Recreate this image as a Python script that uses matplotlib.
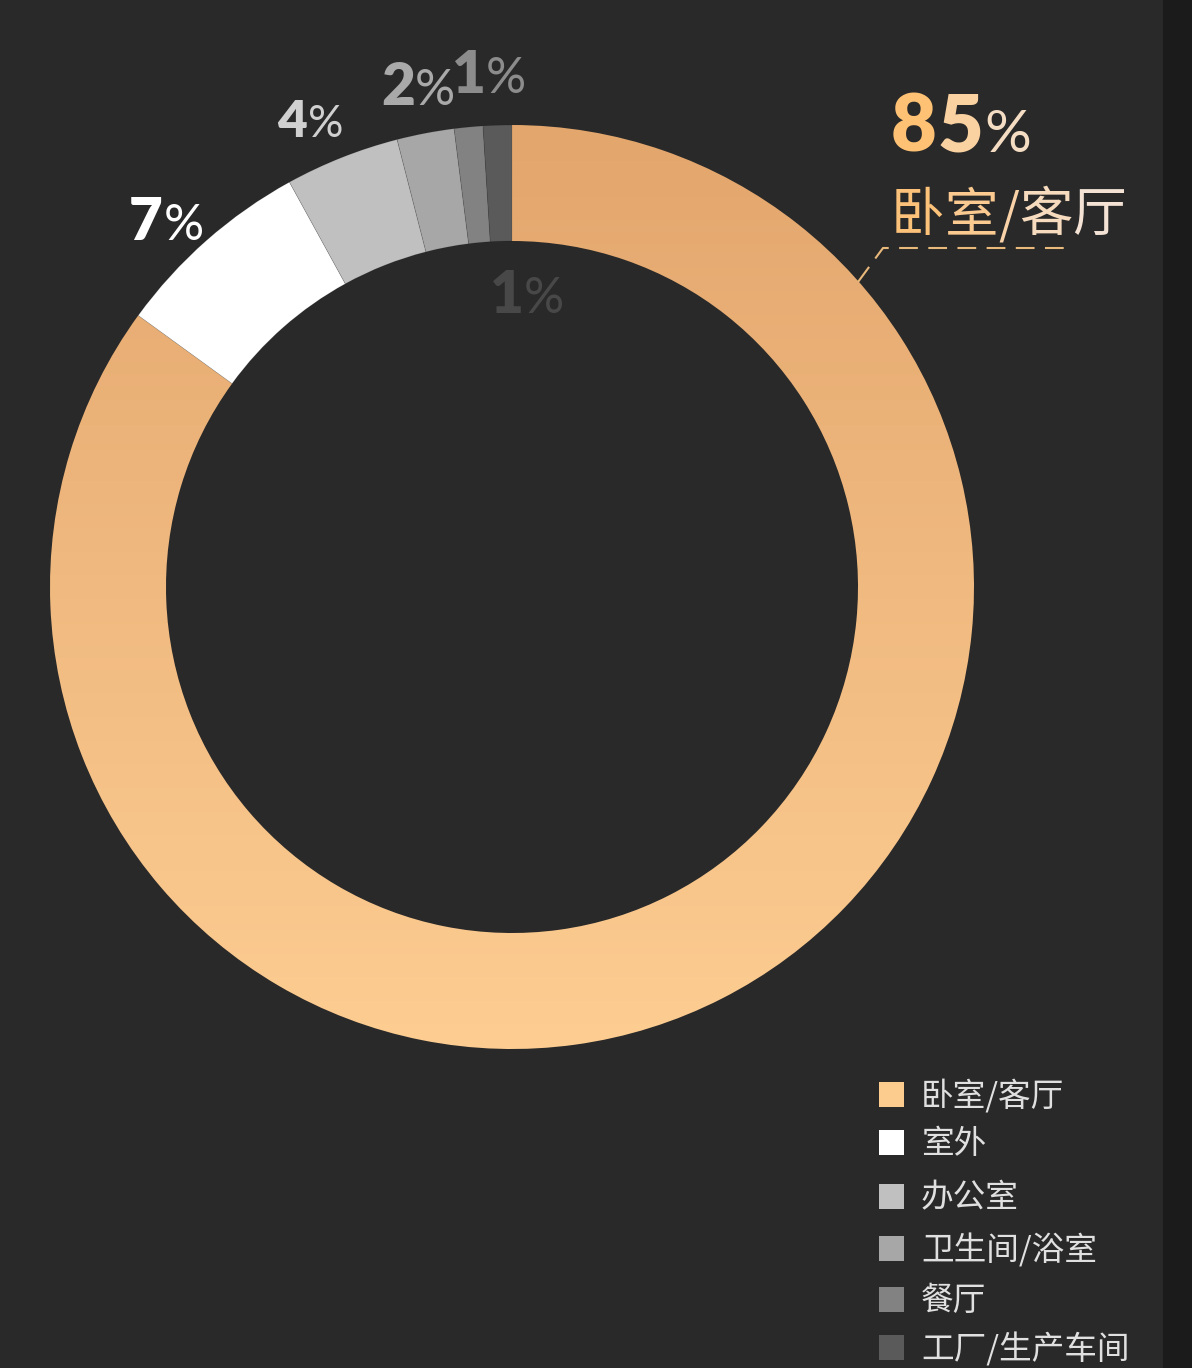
import numpy as np
import matplotlib
matplotlib.use('Agg')
import matplotlib.pyplot as plt
from matplotlib.patches import Rectangle
from matplotlib.colors import to_rgb, to_hex

# ---------------- data ----------------
categories = ['卧室/客厅', '室外', '办公室', '卫生间/浴室', '餐厅', '工厂/生产车间']
values = [85, 7, 4, 2, 1, 1]
pct_labels = ['85', '7', '4', '2', '1', '1']
colors = ['#FCCB8E', '#FFFFFF', '#C0C0C0', '#A7A7A7', '#828282', '#5A5A5A']
label_colors = ['#FFC274', '#FFFFFF', '#D0D0D0', '#A9A9A9', '#8C8C8C', '#484848']

BG = '#292929'
W, H = 1192, 1368
plt.rcParams['font.family'] = ['Noto Sans CJK SC', 'DejaVu Sans']

fig = plt.figure(figsize=(W / 100, H / 100), dpi=100)
fig.patch.set_facecolor(BG)
ax = fig.add_axes([0, 0, 1, 1])
ax.set_facecolor(BG)

# right dark strip
fig.patches.append(Rectangle((1163 / W, 0), (W - 1163) / W, 1, transform=fig.transFigure,
                             facecolor='#1B1B1B', edgecolor='none', zorder=-1))

cx, cy = 512, H - 587
R, ring = 462, 116
wedges, _ = ax.pie(values, colors=colors, startangle=90, counterclock=False,
                   center=(cx, cy), radius=R,
                   wedgeprops=dict(width=ring, edgecolor=(0, 0, 0, 0.12), linewidth=0.6))

# vertical gradient for the main slice
top = np.array(to_rgb('#E3A66D'))
bot = np.array(to_rgb('#FDCD92'))
t = np.linspace(0, 1, 512)[:, None, None]
grad = top * (1 - t) + bot * t
main = wedges[0]
main.set_facecolor('none')
main.set_edgecolor('none')
im = ax.imshow(grad, extent=[cx - R, cx + R, cy - R, cy + R], origin='upper',
               aspect='auto', interpolation='bilinear', zorder=0.5)
im.set_clip_path(main)

ax.set_xlim(0, W)
ax.set_ylim(0, H)
ax.set_aspect('auto')
ax.axis('off')

renderer = fig.canvas.get_renderer()


def run_text(x, y_px, runs, gap=0):
    """runs: list of (string, color, fontsize, weight, family)"""
    for s, c, fs, wt, fam in runs:
        tx = ax.text(x, H - y_px, s, color=c, fontsize=fs, fontweight=wt,
                     family=fam, ha='left', va='baseline')
        bb = tx.get_window_extent(renderer=renderer)
        x += bb.width + gap
    return x


def lerp(c0, c1, f):
    a, b = np.array(to_rgb(c0)), np.array(to_rgb(c1))
    return to_hex(a + (b - a) * f)


NUM = ['Lato', 'DejaVu Sans']
CJK = ['Noto Sans CJK SC', 'DejaVu Sans']

# ---- 85% big gradient label ----
g0, g1 = '#FFC274', '#F4E0CC'
run_text(891, 152, [(pct_labels[0][0], lerp(g0, g1, 0.0), 57, 'heavy', NUM),
                    (pct_labels[0][1], lerp(g0, g1, 0.5), 57, 'heavy', NUM),
                    ('%', lerp(g0, g1, 0.9), 42, 'normal', NUM)], gap=1)
name = categories[0]
run_text(891, 231, [(ch, lerp('#FDC27A', '#F4E3D5', i / (len(name) - 1)), 38.5, 'normal', CJK)
                    for i, ch in enumerate(name)], gap=0)

# leader line
ax.plot([858, 883, 1070], [H - 282, H - 248, H - 248], color='#E9B97C', lw=1.5,
        linestyle=(0, (9, 5)), solid_capstyle='butt', dash_capstyle='butt')

# ---- small percentage labels ----
small = [
    (1, 129, 240, 42, 1),
    (2, 277, 137, 37, 1),
    (3, 381, 105, 42, 0),
    (4, 452, 93, 42, 0),
    (5, 490, 313, 42, 0),
]
for idx, x, y, fs, gp in small:
    run_text(x, y, [(pct_labels[idx], label_colors[idx], fs, 'heavy', NUM),
                    ('%', label_colors[idx], fs * 0.86, 'normal', NUM)], gap=gp)

# ---- legend ----
leg_y = [1094, 1142, 1196, 1248, 1299, 1347]
for cat, col, yc in zip(categories, colors, leg_y):
    ax.add_patch(Rectangle((879, H - yc - 12.5), 25, 25, facecolor=col, edgecolor='none'))
    ax.text(921, H - yc - 2, cat, color='#E0E0E0', fontsize=23.5, family=CJK,
            ha='left', va='center')

fig.savefig('out.png', dpi=100, facecolor=fig.get_facecolor())
